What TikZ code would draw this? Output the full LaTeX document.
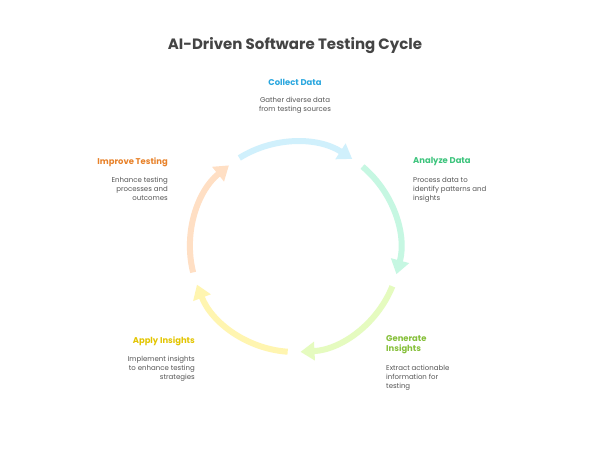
\documentclass[tikz,border=0pt]{standalone}
\usepackage{fontspec}
\setmainfont{Poppins}
\usetikzlibrary{arrows.meta}
\definecolor{cBlue}{HTML}{D0F0FC}
\definecolor{cMint}{HTML}{C6F7E2}
\definecolor{cLime}{HTML}{E5FBBF}
\definecolor{cYel}{HTML}{FFF5B0}
\definecolor{cPeach}{HTML}{FFDFC4}
\definecolor{tBlue}{HTML}{2AA7DF}
\definecolor{tGreen}{HTML}{3CC47C}
\definecolor{tLime}{HTML}{86C03A}
\definecolor{tYel}{HTML}{E3C500}
\definecolor{tOrange}{HTML}{E8822A}
\definecolor{tGray}{HTML}{555555}
\definecolor{tTitle}{HTML}{444444}
\tikzset{
  cyclearc/.style={line width=6pt, -{Triangle[width=18pt,length=14pt]}},
  headtext/.style={font=\fontsize{8.4}{10}\selectfont\bfseries, inner sep=0pt},
  desctext/.style={font=\fontsize{7}{9}\selectfont, text=tGray, inner sep=0pt},
  titletext/.style={font=\fontsize{15}{17}\selectfont\bfseries, text=tTitle, inner sep=0pt}
}
\begin{document}
\begin{tikzpicture}[x=1pt,y=1pt]
\useasboundingbox (0,0) rectangle (590,457);
\fill[white] (0,0) rectangle (590,457);
\coordinate (C) at (295,210);
\node[titletext] (title) at (295,411) {AI-Driven Software Testing Cycle};
% arcs
\draw[cyclearc, cBlue]  ([shift={(122:105)}]C) arc[start angle=122, end angle=57, radius=105];
\draw[cyclearc, cMint]  ([shift={(50:105)}]C) arc[start angle=50, end angle=-15, radius=105];
\draw[cyclearc, cLime]  ([shift={(-22:105)}]C) arc[start angle=-22, end angle=-87, radius=105];
\draw[cyclearc, cYel]   ([shift={(266:105)}]C) arc[start angle=266, end angle=201, radius=105];
\draw[cyclearc, cPeach] ([shift={(194:105)}]C) arc[start angle=194, end angle=129, radius=105];
% labels
\node[headtext, text=tBlue] (h1) at (295,375) {Collect Data};
\node[desctext, align=center, anchor=north] (d1) at (295,360) {Gather diverse data\\from testing sources};
\node[headtext, text=tGreen, anchor=west] (h2) at (413,295) {Analyze Data};
\node[desctext, align=left, anchor=north west] (d2) at (413,280) {Process data to\\identify patterns and\\insights};
\node[headtext, text=tLime, anchor=west, align=left] (h3) at (386,112) {Generate\\Insights};
\node[desctext, align=left, anchor=north west] (d3) at (386,92) {Extract actionable\\information for\\testing};
\node[headtext, text=tYel, anchor=east] (h4) at (195,116) {Apply Insights};
\node[desctext, align=right, anchor=north east] (d4) at (195,101) {Implement insights\\to enhance testing\\strategies};
\node[headtext, text=tOrange, anchor=east] (h5) at (168,295) {Improve Testing};
\node[desctext, align=right, anchor=north east] (d5) at (168,280) {Enhance testing\\processes and\\outcomes};
\end{tikzpicture}
\end{document}
